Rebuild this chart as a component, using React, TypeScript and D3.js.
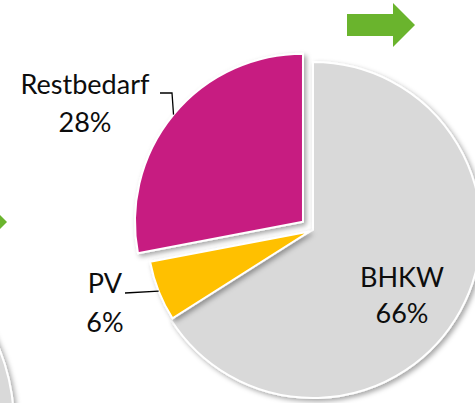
import * as d3 from "d3";

const LABELS = ["BHKW", "PV", "Restbedarf"];
const VALUES = [66, 6, 28];
const PCT_LABELS = ["66%", "6%", "28%"];
const COLORS = ["#d9d9d9", "#ffc000", "#c71f81"];

// layout / style per slice (not data)
const EXPLODE = [0, 4, 13];
const RADIUS = [168, 162, 168];
const LABEL_POS = [
  { x: 402, y1: 287, y2: 323, leader: null },
  { x: 105, y1: 293, y2: 332, leader: [[125, 293]] },
  { x: 85, y1: 94, y2: 132, leader: [[160, 93], [172, 93]] },
];

const W = 475;
const H = 403;
const cx = 313;
const cy = 230;
const FONT = "Lato, 'Liberation Sans', sans-serif";

export default function App() {
  const arcs = d3
    .pie<number>()
    .sort(null)
    .value((d) => d)(VALUES);

  const slices = arcs.map((a, i) => {
    const mid = (a.startAngle + a.endAngle) / 2;
    const ox = cx + Math.sin(mid) * EXPLODE[i];
    const oy = cy - Math.cos(mid) * EXPLODE[i];
    const arcGen = d3.arc<d3.PieArcDatum<number>>().innerRadius(0).outerRadius(RADIUS[i]);
    const edge: [number, number] = [ox + Math.sin(mid) * RADIUS[i], oy - Math.cos(mid) * RADIUS[i]];
    return { a, i, ox, oy, d: arcGen(a) || "", edge };
  });

  const line = d3.line();

  return (
    <div style={{ position: "absolute", left: 0, top: 0, width: W, height: H, background: "#fff" }}>
      <svg width={W} height={H} style={{ display: "block" }}>
        <defs>
          <filter id="shadow" x="-20%" y="-20%" width="140%" height="140%">
            <feDropShadow dx="2.5" dy="2.5" stdDeviation="2.5" floodColor="#000" floodOpacity="0.35" />
          </filter>
        </defs>

        {/* neighbouring graphics cut off at the edges */}
        <circle cx={-190} cy={425} r={204} fill="#d9d9d9" stroke="#fff" strokeWidth={2} filter="url(#shadow)" />
        <polygon points="-16,199 7,222 -16,245" fill="#6ab42d" />
        <polygon points="347,14 393,14 393,3 415,25 393,47 393,36 347,36" fill="#6ab42d" />

        {slices.map((s) => (
          <path
            key={LABELS[s.i]}
            d={s.d}
            transform={`translate(${s.ox},${s.oy})`}
            fill={COLORS[s.i]}
            stroke="#fff"
            strokeWidth={2}
            strokeLinejoin="round"
            filter="url(#shadow)"
          />
        ))}

        {slices.map((s) => {
          const lp = LABEL_POS[s.i];
          if (!lp.leader) return null;
          const pts = [...lp.leader, s.edge] as [number, number][];
          return <path key={"l" + s.i} d={line(pts) || ""} fill="none" stroke="#000" strokeWidth={1.3} />;
        })}

        {slices.map((s) => {
          const lp = LABEL_POS[s.i];
          return (
            <g key={"t" + s.i} fontFamily={FONT} fontSize={27} fill="#0d0d0d" textAnchor="middle">
              <text x={lp.x} y={lp.y1}>{LABELS[s.i]}</text>
              <text x={lp.x} y={lp.y2}>{PCT_LABELS[s.i]}</text>
            </g>
          );
        })}
      </svg>
    </div>
  );
}
